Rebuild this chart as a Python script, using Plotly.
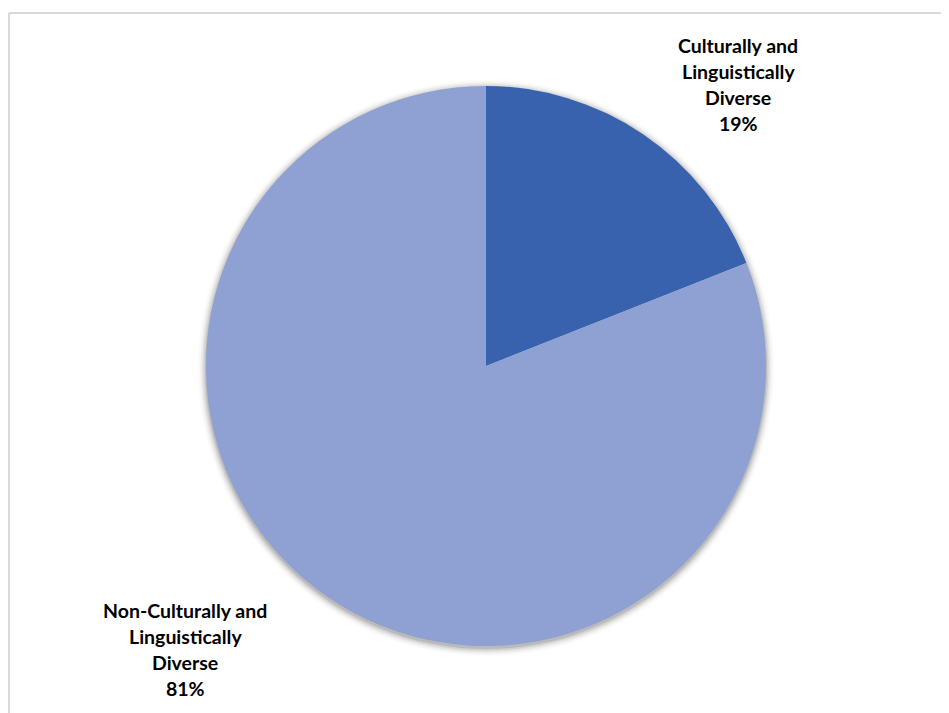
import plotly.graph_objects as go

labels = ["Culturally and Linguistically Diverse", "Non-Culturally and Linguistically Diverse"]
values = [19, 81]
colors = ["#3862AD", "#8FA0D2"]
label_lines = [["Culturally and", "Linguistically", "Diverse", "19%"],
               ["Non-Culturally and", "Linguistically", "Diverse", "81%"]]

W, H = 949, 713
OFF = 8  # page body margin offset
cx, cy, r = 486 - OFF, 366 - OFF, 280

fig = go.Figure()
fig.add_trace(go.Pie(
    labels=labels, values=values, sort=False, direction="clockwise", rotation=0,
    marker=dict(colors=colors, line=dict(width=0)),
    textinfo="none", hoverinfo="label+percent", showlegend=False,
    domain=dict(x=[(cx - r) / W, (cx + r) / W], y=[1 - (cy + r) / H, 1 - (cy - r) / H]),
))

shapes = []
# soft shadow around the pie
for i, op in enumerate([0.10, 0.07, 0.05, 0.035, 0.02, 0.01]):
    rr = r + 1 + i * 1.5
    shapes.append(dict(type="circle", xref="paper", yref="paper", layer="below",
                       x0=(cx - rr) / W, x1=(cx + rr) / W,
                       y0=1 - (cy + 2 + rr) / H, y1=1 - (cy + 2 - rr) / H,
                       fillcolor=f"rgba(0,0,0,{op})", line=dict(width=0)))
# chart area border (top and left visible)
bx, by = 9 - OFF, 13 - OFF
shapes.append(dict(type="line", xref="paper", yref="paper", x0=bx / W, x1=1.0, y0=1 - by / H, y1=1 - by / H,
                   line=dict(color="#D9D9D9", width=2)))
shapes.append(dict(type="line", xref="paper", yref="paper", x0=bx / W, x1=bx / W, y0=0, y1=1 - by / H,
                   line=dict(color="#D9D9D9", width=2)))

annotations = []
label_pos = [(738 - OFF, 45 - OFF), (185 - OFF, 610 - OFF)]
for lines, (lx, ly) in zip(label_lines, label_pos):
    for k, t in enumerate(lines):
        annotations.append(dict(text=f"<b>{t}</b>", x=lx / W, y=1 - (ly + k * 26.3) / H,
                                xref="paper", yref="paper", showarrow=False,
                                xanchor="center", yanchor="middle",
                                font=dict(family="Lato", size=19.5, color="#000000")))

fig.update_layout(width=W, height=H, margin=dict(l=0, r=0, t=0, b=0),
                  paper_bgcolor="white", plot_bgcolor="white",
                  shapes=shapes, annotations=annotations)
fig.write_html("out.html")
